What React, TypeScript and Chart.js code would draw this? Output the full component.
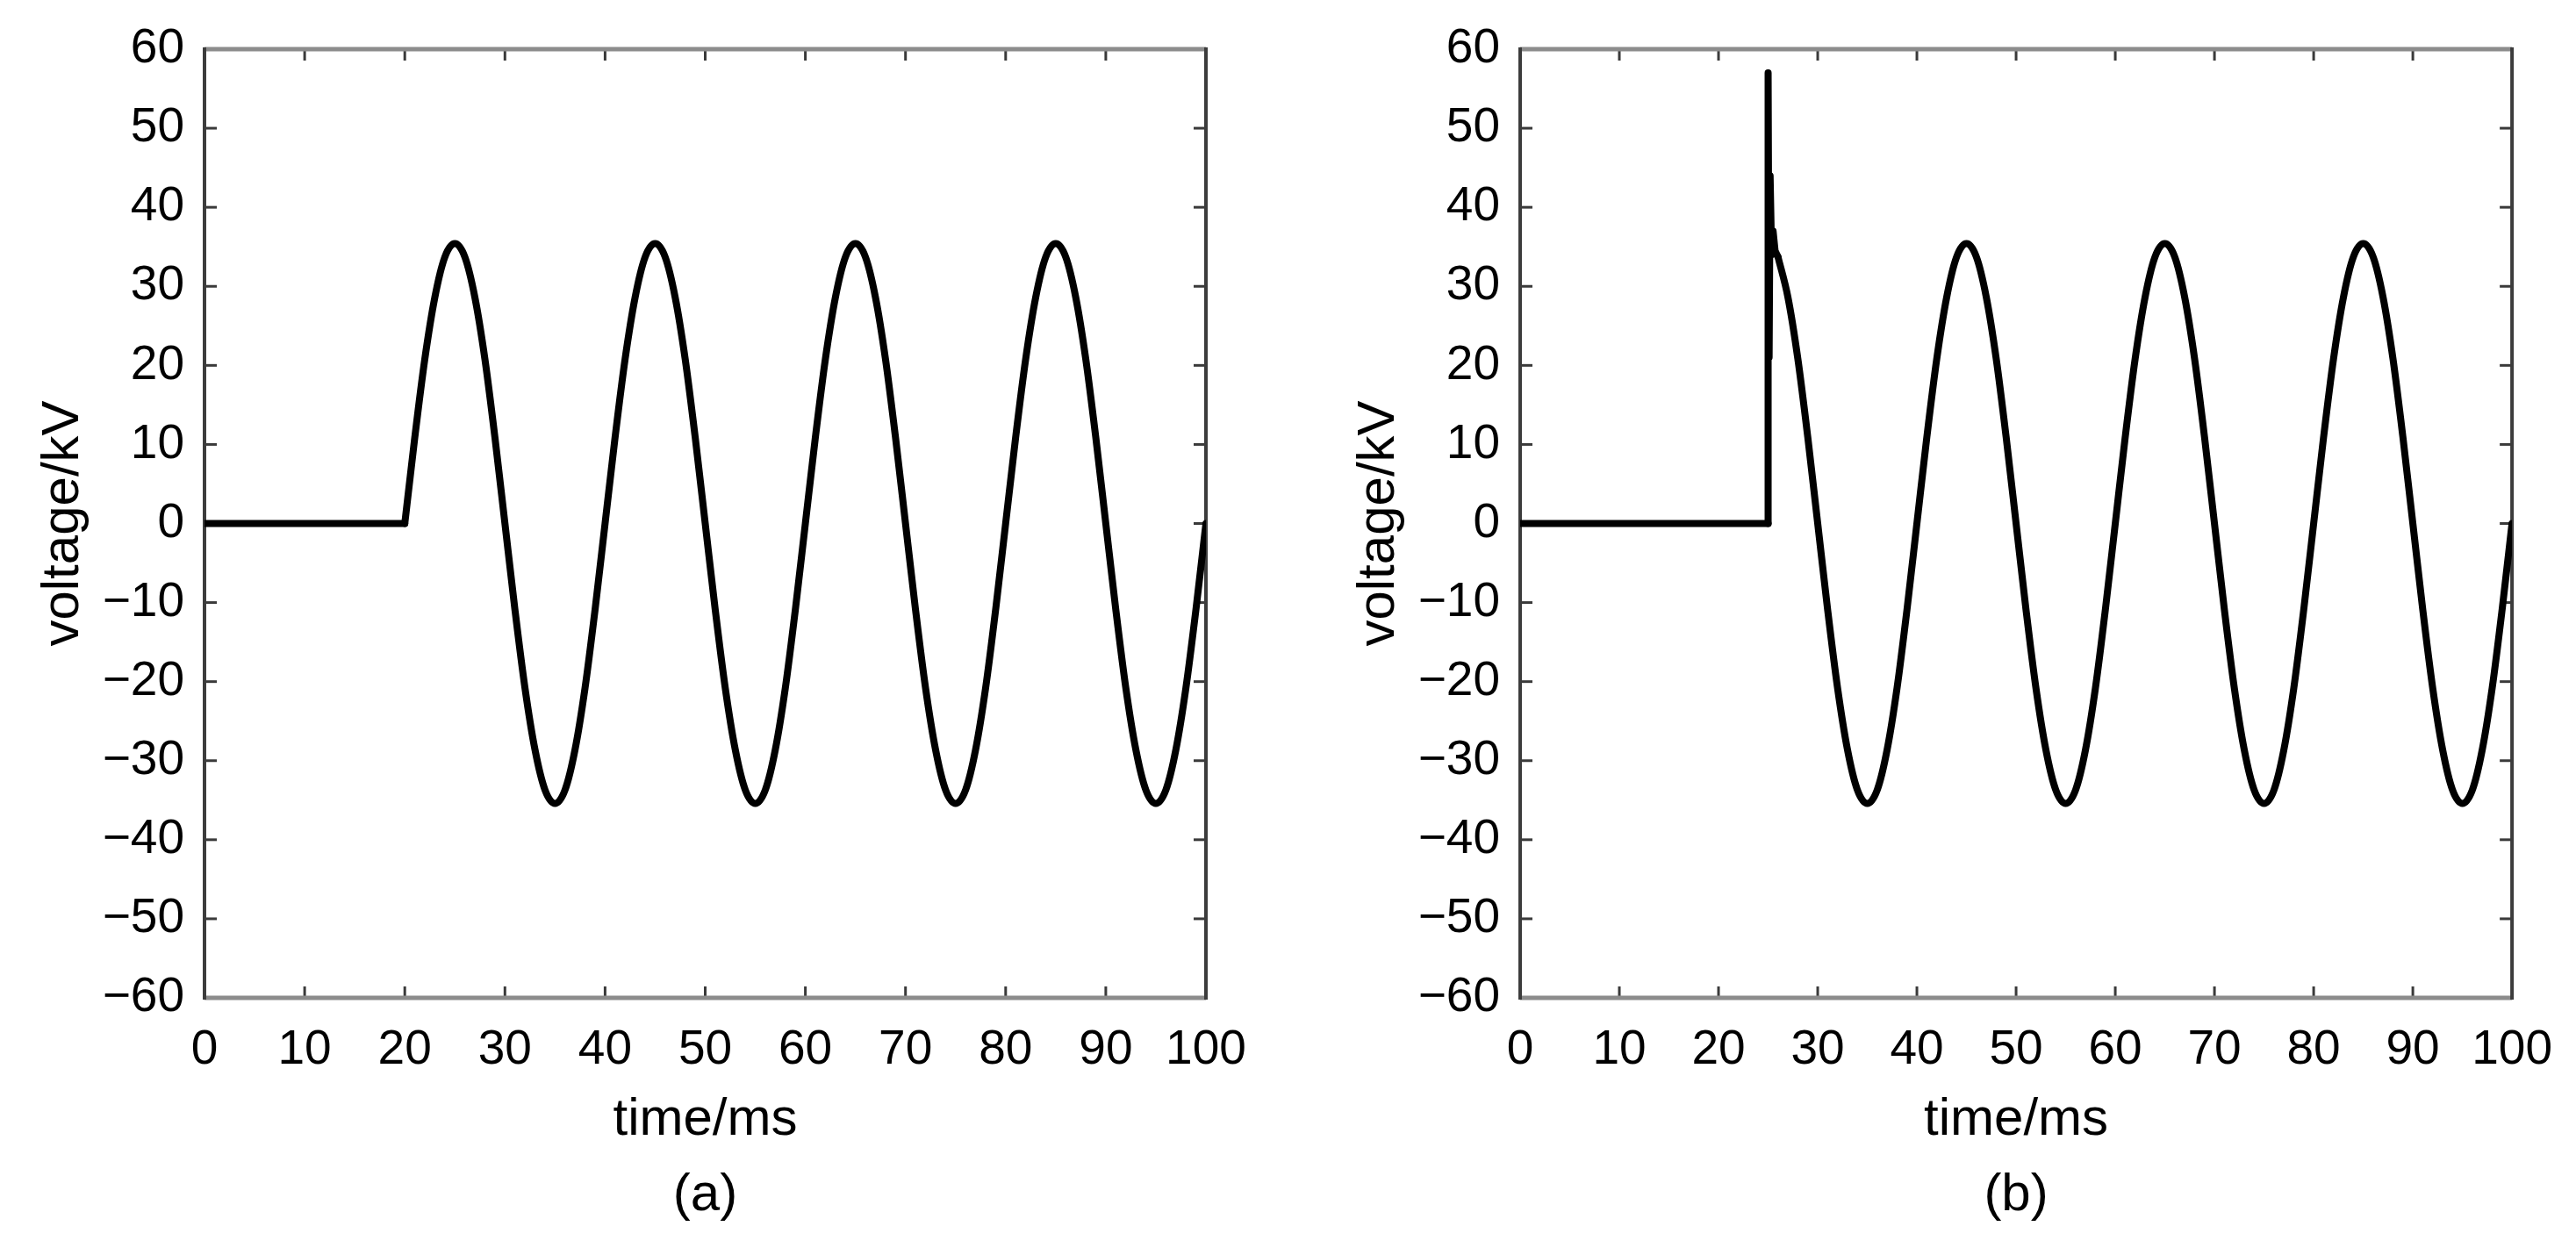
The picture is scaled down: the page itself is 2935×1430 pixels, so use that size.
import { useEffect, useRef } from "react";
import Chart from "chart.js/auto";

// ---- data ----
const xTickValues = [0, 10, 20, 30, 40, 50, 60, 70, 80, 90, 100];
const yTickValues = [-60, -50, -40, -30, -20, -10, 0, 10, 20, 30, 40, 50, 60];

// (a) zero until the switch at 20 ms, then the 50 Hz wave
const flatTimesA = [0, 20];
const flatValuesA = [0, 0];
const waveTimesA = [
  20, 21, 22, 23, 24, 25, 26, 27, 28, 29, 30, 31, 32, 33, 34, 35, 36, 37, 38, 39,
  40, 41, 42, 43, 44, 45, 46, 47, 48, 49, 50, 51, 52, 53, 54, 55, 56, 57, 58, 59,
  60, 61, 62, 63, 64, 65, 66, 67, 68, 69, 70, 71, 72, 73, 74, 75, 76, 77, 78, 79,
  80, 81, 82, 83, 84, 85, 86, 87, 88, 89, 90, 91, 92, 93, 94, 95, 96, 97, 98, 99,
  100,
];
const waveValuesA = [
  0, 10.9, 20.8, 28.6, 33.7, 35.4, 33.7, 28.6, 20.8, 10.9,
  0, -10.9, -20.8, -28.6, -33.7, -35.4, -33.7, -28.6, -20.8, -10.9,
  0, 10.9, 20.8, 28.6, 33.7, 35.4, 33.7, 28.6, 20.8, 10.9,
  0, -10.9, -20.8, -28.6, -33.7, -35.4, -33.7, -28.6, -20.8, -10.9,
  0, 10.9, 20.8, 28.6, 33.7, 35.4, 33.7, 28.6, 20.8, 10.9,
  0, -10.9, -20.8, -28.6, -33.7, -35.4, -33.7, -28.6, -20.8, -10.9,
  0, 10.9, 20.8, 28.6, 33.7, 35.4, 33.7, 28.6, 20.8, 10.9,
  0, -10.9, -20.8, -28.6, -33.7, -35.4, -33.7, -28.6, -20.8, -10.9,
  0,
];

// (b) zero until 25 ms, overvoltage spike, then the wave
const flatTimesB = [0, 25];
const flatValuesB = [0, 0];
const spikeTimesB = [25, 25, 25.1, 25.2, 25.35, 25.5, 25.7, 26];
const spikeValuesB = [0, 57, 21, 44, 34, 37, 34.5, 33.7];
const waveTimesB = [
  26, 27, 28, 29, 30, 31, 32, 33, 34, 35, 36, 37, 38, 39,
  40, 41, 42, 43, 44, 45, 46, 47, 48, 49, 50, 51, 52, 53, 54, 55, 56, 57, 58, 59,
  60, 61, 62, 63, 64, 65, 66, 67, 68, 69, 70, 71, 72, 73, 74, 75, 76, 77, 78, 79,
  80, 81, 82, 83, 84, 85, 86, 87, 88, 89, 90, 91, 92, 93, 94, 95, 96, 97, 98, 99,
  100,
];
const waveValuesB = [
  33.7, 28.6, 20.8, 10.9,
  0, -10.9, -20.8, -28.6, -33.7, -35.4, -33.7, -28.6, -20.8, -10.9,
  0, 10.9, 20.8, 28.6, 33.7, 35.4, 33.7, 28.6, 20.8, 10.9,
  0, -10.9, -20.8, -28.6, -33.7, -35.4, -33.7, -28.6, -20.8, -10.9,
  0, 10.9, 20.8, 28.6, 33.7, 35.4, 33.7, 28.6, 20.8, 10.9,
  0, -10.9, -20.8, -28.6, -33.7, -35.4, -33.7, -28.6, -20.8, -10.9,
  0, 10.9, 20.8, 28.6, 33.7, 35.4, 33.7, 28.6, 20.8, 10.9,
  0, -10.9, -20.8, -28.6, -33.7, -35.4, -33.7, -28.6, -20.8, -10.9,
  0,
];

const FONT = "'Liberation Sans', Arial, sans-serif";
const TEXT = "#000000";
const H = 1430;

const zip = (xs: number[], ys: number[]) => xs.map((x, i) => ({ x, y: ys[i] }));

const lineSet = (xs: number[], ys: number[], smooth: boolean) => ({
  data: zip(xs, ys),
  borderColor: "#000000",
  borderWidth: 8,
  borderJoinStyle: "round",
  borderCapStyle: "round",
  pointRadius: 0,
  tension: 0,
  cubicInterpolationMode: smooth ? "monotone" : "default",
});

const strokeLine = (ctx: any, x1: number, y1: number, x2: number, y2: number) => {
  ctx.beginPath();
  ctx.moveTo(x1, y1);
  ctx.lineTo(x2, y2);
  ctx.stroke();
};

// box and inward ticks on all four sides
const framePlugin = {
  id: "frame",
  beforeDatasetsDraw: (chart: any) => {
    const {
      ctx,
      chartArea: { left, right, top, bottom },
      scales: { x, y },
    } = chart;
    ctx.save();
    ctx.lineCap = "butt";
    ctx.strokeStyle = "#3a3a3a";
    ctx.lineWidth = 3;
    xTickValues.slice(1, -1).forEach((v) => {
      const px = x.getPixelForValue(v);
      strokeLine(ctx, px, bottom, px, bottom - 13);
      strokeLine(ctx, px, top, px, top + 13);
    });
    yTickValues.slice(1, -1).forEach((v) => {
      const py = y.getPixelForValue(v);
      strokeLine(ctx, left, py, left + 14, py);
      strokeLine(ctx, right, py, right - 14, py);
    });
    ctx.strokeStyle = "#8c8c8c";
    ctx.lineWidth = 5;
    strokeLine(ctx, left, top, right, top);
    strokeLine(ctx, left, bottom, right, bottom);
    ctx.strokeStyle = "#3c3c3c";
    ctx.lineWidth = 4;
    strokeLine(ctx, left, top - 2, left, bottom + 2);
    strokeLine(ctx, right, top - 2, right, bottom + 2);
    ctx.restore();
  },
};

const tickLabel = (v: number | string) => {
  const n = Number(v);
  return n < 0 ? `\u2212${-n}` : `${n}`;
};

interface PanelProps {
  datasets: any[];
  left: number;
  width: number;
  padLeft: number;
  padRight: number;
  caption: string;
}

const Panel = ({ datasets, left, width, padLeft, padRight, caption }: PanelProps) => {
  const canvasRef = useRef<HTMLCanvasElement>(null);

  useEffect(() => {
    const chart = new Chart(canvasRef.current as HTMLCanvasElement, {
      type: "line",
      data: { datasets },
      options: {
        animation: false,
        responsive: false,
        devicePixelRatio: 1,
        layout: { padding: { left: padLeft, right: padRight, top: 51, bottom: 0 } },
        plugins: {
          legend: { display: false },
          tooltip: { enabled: false },
        },
        scales: {
          x: {
            type: "linear",
            min: 0,
            max: 100,
            afterBuildTicks: (s: any) => {
              s.ticks = xTickValues.map((value) => ({ value }));
            },
            afterFit: (s: any) => {
              s.height = 293;
            },
            grid: { display: false, drawTicks: false },
            border: { display: false },
            ticks: {
              autoSkip: false,
              maxRotation: 0,
              padding: 27,
              color: TEXT,
              font: { family: FONT, size: 55 },
              callback: tickLabel,
            },
            title: {
              display: true,
              text: ["time/ms", caption],
              color: TEXT,
              font: { family: FONT, size: 60, lineHeight: 1.43 },
              padding: { top: 0, bottom: 25 },
            },
          },
          y: {
            type: "linear",
            min: -60,
            max: 60,
            afterBuildTicks: (s: any) => {
              s.ticks = yTickValues.map((value) => ({ value }));
            },
            afterFit: (s: any) => {
              s.width = 233;
            },
            grid: { display: false, drawTicks: false },
            border: { display: false },
            ticks: {
              padding: 23,
              color: TEXT,
              font: { family: FONT, size: 55 },
              callback: tickLabel,
            },
            title: {
              display: true,
              text: "voltage/kV",
              color: TEXT,
              font: { family: FONT, size: 60 },
              padding: { top: 36, bottom: 0 },
            },
          },
        },
      } as any,
      plugins: [framePlugin],
    });

    return () => {
      chart.destroy();
    };
  }, [datasets, padLeft, padRight, caption]);

  return (
    <canvas
      ref={canvasRef}
      width={width}
      height={H}
      style={{ position: "absolute", left, top: 0, width, height: H }}
    />
  );
};

const datasetsA = [
  lineSet(flatTimesA, flatValuesA, false),
  lineSet(waveTimesA, waveValuesA, true),
];
const datasetsB = [
  lineSet(flatTimesB, flatValuesB, false),
  lineSet(spikeTimesB, spikeValuesB, false),
  lineSet(waveTimesB, waveValuesB, true),
];

export default function App() {
  return (
    <div
      style={{
        position: "fixed",
        left: 0,
        top: 0,
        width: 2935,
        height: H,
        background: "#ffffff",
        overflow: "hidden",
      }}
    >
      <Panel datasets={datasetsA} left={0} width={1467} padLeft={0} padRight={93} caption="(a)" />
      <Panel datasets={datasetsB} left={1467} width={1468} padLeft={32} padRight={61} caption="(b)" />
    </div>
  );
}
